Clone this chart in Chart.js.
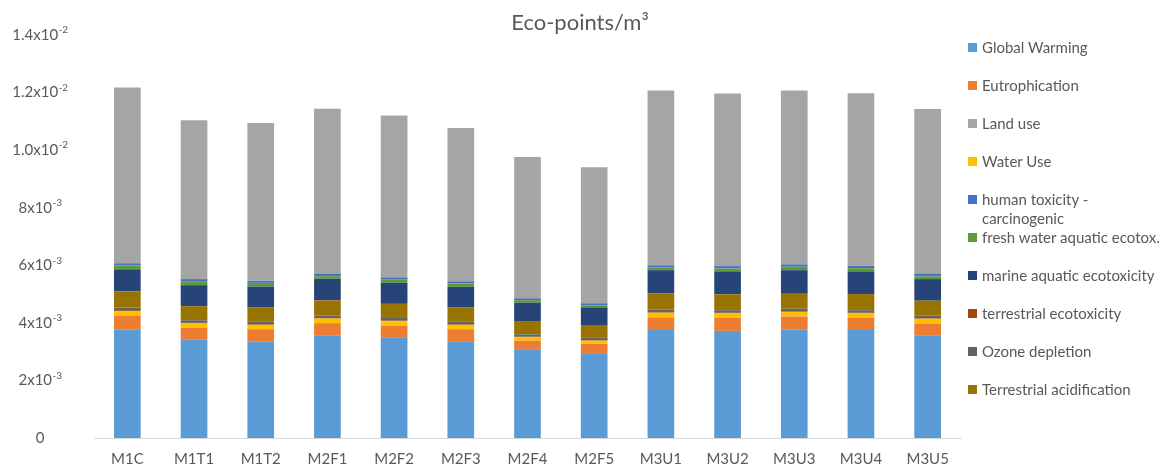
<!DOCTYPE html>
<html>
<head>
<meta charset="utf-8">
<script src="https://cdn.jsdelivr.net/npm/chart.js@4.4.1/dist/chart.umd.min.js"></script>
<style>
  html, body { margin: 0; padding: 0; background: #fff; }
  #wrap { position: relative; width: 1169px; height: 468px; }
  #legend {
    position: absolute; left: 968px; top: 38px;
    font-family: Lato, "Liberation Sans", sans-serif; font-size: 15px; color: #595959;
  }
  .item { height: 38px; display: flex; align-items: flex-start; }
  .sw { width: 9px; height: 9px; margin-top: 5px; margin-right: 5px; flex: none; }
  .txt { line-height: 19px; white-space: nowrap; }
</style>
</head>
<body>
<div id="wrap">
  <canvas id="c" width="1169" height="468"></canvas>
  <div id="legend"></div>
</div>
<script>
// Samples (x axis)
const categories = ['M1C', 'M1T1', 'M1T2', 'M2F1', 'M2F2', 'M2F3', 'M2F4', 'M2F5',
                    'M3U1', 'M3U2', 'M3U3', 'M3U4', 'M3U5'];

// Impact categories, eco-points per m3 (stacked bottom to top)
const globalWarming    = [0.00378, 0.00343, 0.00335, 0.00357, 0.00348, 0.00336, 0.00306, 0.00292, 0.00375, 0.00372, 0.00378, 0.00375, 0.00355];
const eutrophication   = [0.00046, 0.00040, 0.00043, 0.00042, 0.00042, 0.00042, 0.00032, 0.00035, 0.00044, 0.00046, 0.00044, 0.00043, 0.00043];
const waterUse         = [0.00017, 0.00015, 0.00015, 0.00016, 0.00016, 0.00015, 0.00012, 0.00011, 0.00016, 0.00015, 0.00016, 0.00015, 0.00016];
const terrEcotox       = [0.00003, 0.00002, 0.00002, 0.00002, 0.00002, 0.00002, 0.00002, 0.00002, 0.00002, 0.00002, 0.00002, 0.00002, 0.00002];
const ozoneDepletion   = [0.00009, 0.00009, 0.00009, 0.00009, 0.00009, 0.00009, 0.00008, 0.00008, 0.00009, 0.00009, 0.00009, 0.00009, 0.00009];
const terrAcidif       = [0.00056, 0.00049, 0.00049, 0.00052, 0.00049, 0.00049, 0.00044, 0.00042, 0.00056, 0.00055, 0.00052, 0.00056, 0.00052];
const marineEcotox     = [0.00077, 0.00073, 0.00073, 0.00075, 0.00073, 0.00072, 0.00066, 0.00064, 0.00081, 0.00080, 0.00082, 0.00079, 0.00075];
const freshwaterEcotox = [0.00014, 0.00014, 0.00013, 0.00009, 0.00011, 0.00012, 0.00009, 0.00007, 0.00009, 0.00010, 0.00012, 0.00011, 0.00009];
const humanToxCarc     = [0.00007, 0.00007, 0.00007, 0.00009, 0.00008, 0.00007, 0.00006, 0.00007, 0.00008, 0.00008, 0.00008, 0.00008, 0.00009];
const landUse          = [0.00611, 0.00552, 0.00548, 0.00573, 0.00562, 0.00533, 0.00491, 0.00473, 0.00607, 0.00600, 0.00604, 0.00600, 0.00573];

// Y axis tick values and their labels (mantissa + exponent)
const yTickValues = [0, 0.002, 0.004, 0.006, 0.008, 0.010, 0.012, 0.014];
const yTickBase   = ['0', '2x10', '4x10', '6x10', '8x10', '1.0x10', '1.2x10', '1.4x10'];
const yTickExp    = ['', '-3', '-3', '-3', '-3', '-2', '-2', '-2'];

const TITLE = 'Eco-points/m³';
const FONT = 'Lato, "Liberation Sans", sans-serif';
const TEXT = '#595959';

const series = [
  { label: 'Global Warming',               data: globalWarming,    color: '#5B9BD5' },
  { label: 'Eutrophication',               data: eutrophication,   color: '#ED7D31' },
  { label: 'Water Use',                    data: waterUse,         color: '#FFC000' },
  { label: 'terrestrial ecotoxicity',      data: terrEcotox,       color: '#9E480E' },
  { label: 'Ozone depletion',              data: ozoneDepletion,   color: '#636363' },
  { label: 'Terrestrial acidification',    data: terrAcidif,       color: '#997300' },
  { label: 'marine aquatic ecotoxicity',   data: marineEcotox,     color: '#264478' },
  { label: 'fresh water aquatic ecotox.',  data: freshwaterEcotox, color: '#5E9A3C' },
  { label: 'human toxicity - carcinogenic', data: humanToxCarc,    color: '#4472C4' },
  { label: 'Land use',                     data: landUse,          color: '#A5A5A5' }
];

// Order of entries in the key, with line breaks
const legendOrder = [
  ['Global Warming'], ['Eutrophication'], ['Land use'], ['Water Use'],
  ['human toxicity -', 'carcinogenic'], ['fresh water aquatic ecotox.'],
  ['marine aquatic ecotoxicity'], ['terrestrial ecotoxicity'],
  ['Ozone depletion'], ['Terrestrial acidification']
];

// Title centred over the whole canvas, and y tick labels with superscript exponents
const textPlugin = {
  id: 'textLayer',
  afterDraw(chart) {
    const ctx = chart.ctx;
    const y = chart.scales.y;
    ctx.save();
    ctx.fillStyle = TEXT;
    ctx.textBaseline = 'middle';

    ctx.textAlign = 'center';
    ctx.font = '22px ' + FONT;
    ctx.fillText(TITLE, 580, 23);

    ctx.textAlign = 'left';
    yTickValues.forEach((v, i) => {
      const base = yTickBase[i], sup = yTickExp[i];
      ctx.font = '15px ' + FONT;
      const wb = ctx.measureText(base).width;
      ctx.font = '10px ' + FONT;
      const ws = sup ? ctx.measureText(sup).width : 0;
      const x0 = 40 - (wb + ws) / 2;
      const py = y.getPixelForValue(v);
      ctx.font = '15px ' + FONT;
      ctx.fillText(base, x0, py);
      if (sup) {
        ctx.font = '10px ' + FONT;
        ctx.fillText(sup, x0 + wb + 0.5, py - 5);
      }
    });
    ctx.restore();
  }
};

const chart = new Chart(document.getElementById('c'), {
  type: 'bar',
  data: {
    labels: categories,
    datasets: series.map(s => ({
      label: s.label,
      data: s.data,
      backgroundColor: s.color,
      borderWidth: 0,
      barPercentage: 0.4,
      categoryPercentage: 1.0
    }))
  },
  options: {
    responsive: false,
    animation: false,
    layout: { padding: { left: 0, right: 208, top: 35, bottom: 0 } },
    plugins: {
      legend: { display: false },
      tooltip: { enabled: false },
      title: { display: false }
    },
    scales: {
      x: {
        stacked: true,
        grid: { display: false, drawTicks: false },
        border: { display: true, color: '#D9D9D9', width: 1 },
        ticks: { color: TEXT, font: { family: FONT, size: 15 }, padding: 12, maxRotation: 0 },
        afterFit(scale) { scale.height = 30; }
      },
      y: {
        stacked: true,
        min: 0,
        max: 0.014,
        grid: { display: false, drawTicks: false },
        border: { display: false },
        ticks: { display: false, stepSize: 0.002 },
        afterFit(scale) { scale.width = 94; }
      }
    }
  },
  plugins: [textPlugin]
});

// HTML key
const legendEl = document.getElementById('legend');
legendOrder.forEach(lines => {
  const full = lines.join(' ');
  const s = series.find(d => d.label === full);
  const item = document.createElement('div');
  item.className = 'item';
  const sw = document.createElement('span');
  sw.className = 'sw';
  sw.style.background = s.color;
  const txt = document.createElement('span');
  txt.className = 'txt';
  lines.forEach((ln, i) => {
    if (i) txt.appendChild(document.createElement('br'));
    txt.appendChild(document.createTextNode(ln));
  });
  item.appendChild(sw);
  item.appendChild(txt);
  legendEl.appendChild(item);
});
</script>
</body>
</html>
